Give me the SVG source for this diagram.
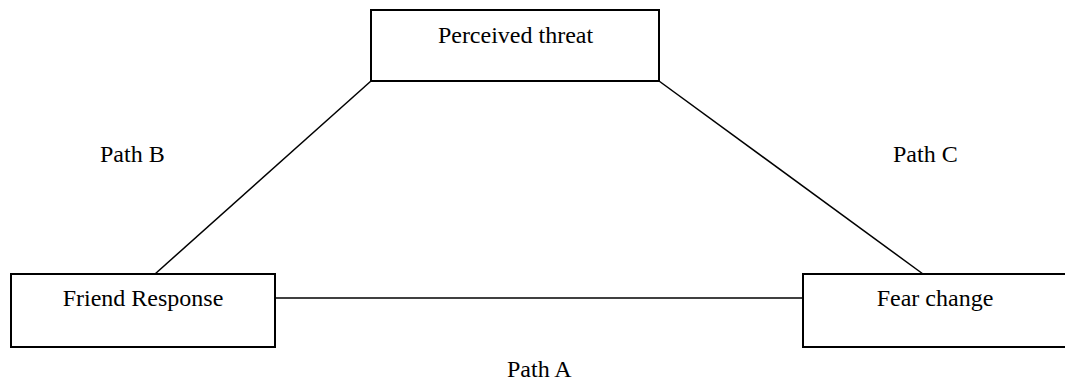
<svg xmlns="http://www.w3.org/2000/svg" width="1065" height="383" viewBox="0 0 1065 383">
<style>
.box{fill:#fff;stroke:#000;stroke-width:2}
.ln{stroke:#000;stroke-width:1.5;fill:none}
text{font-family:"Liberation Serif","Times New Roman",serif;font-size:24px;fill:#000}
.c{text-anchor:middle}
</style>
<rect width="1065" height="383" fill="#fff"/>
<g id="connectors">
<line class="ln" x1="371" y1="81" x2="155" y2="274"/>
<line class="ln" x1="659" y1="81" x2="923" y2="274"/>
<line class="ln" x1="275" y1="298" x2="803" y2="298"/>
</g>
<g id="node-perceived-threat">
<rect class="box" x="371" y="10" width="288" height="71"/>
<text class="c" x="515.5" y="43">Perceived threat</text>
</g>
<g id="node-friend-response">
<rect class="box" x="11" y="274" width="264" height="73"/>
<text class="c" x="143" y="306">Friend Response</text>
</g>
<g id="node-fear-change">
<rect class="box" x="803" y="274" width="270" height="73"/>
<text class="c" x="935" y="306">Fear change</text>
</g>
<g id="labels">
<text x="100" y="162">Path B</text>
<text x="893" y="162">Path C</text>
<text x="507" y="377">Path A</text>
</g>
</svg>
